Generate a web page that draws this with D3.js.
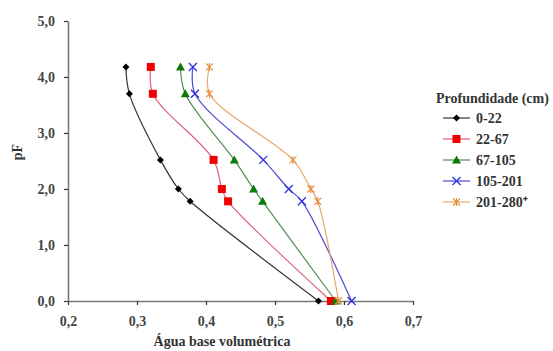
<!DOCTYPE html>
<html><head><meta charset="utf-8">
<script src="https://cdn.jsdelivr.net/npm/d3@7"></script>
<style>body{margin:0;background:#fff}</style>
</head><body>
<svg id="c" width="553" height="351"></svg>
<script>
const seriesNames = ["0-22","22-67","67-105","105-201","201-280⁺"];
const pF = [4.18, 3.7, 2.52, 2.0, 1.78, 0];
const s0 = [0.284, 0.289, 0.334, 0.360, 0.377, 0.563];
const s1 = [0.320, 0.323, 0.411, 0.423, 0.432, 0.581];
const s2 = [0.363, 0.370, 0.441, 0.469, 0.482, 0.588];
const s3 = [0.381, 0.384, 0.483, 0.520, 0.539, 0.611];
const s4 = [0.405, 0.405, 0.526, 0.552, 0.562, 0.592];
const xTicks = [0.2,0.3,0.4,0.5,0.6,0.7];
const yTicks = [0,1,2,3,4,5];
const lineColors = ["#333","#e0607a","#4f8f55","#4a4ad0","#e8a868"];
const markColors = ["#000","#f00000","#0a7a0a","#3030e0","#e89040"];
const markTypes = ["diamond","square","triangle","x","star"];
const values = [s0,s1,s2,s3,s4];
const FONT = "'Liberation Serif',serif";

const svg = d3.select("#c");
const x = d3.scaleLinear().domain([0.2,0.7]).range([68,413]);
const y = d3.scaleLinear().domain([0,5]).range([301,21]);
const fmt = d => d3.format(".1f")(d).replace(".", ",");

const xa = svg.append("g").attr("transform","translate(0,301)")
  .call(d3.axisBottom(x).tickValues(xTicks).tickFormat(fmt).tickSize(4).tickSizeOuter(0));
const ya = svg.append("g").attr("transform","translate(68,0)")
  .call(d3.axisLeft(y).tickValues(yTicks).tickFormat(fmt).tickSize(4).tickSizeOuter(0));
[xa,ya].forEach(a=>{
  a.attr("font-family",FONT);
  a.select(".domain").attr("stroke","#777").attr("stroke-width",1.6);
  a.selectAll(".tick line").attr("stroke","#333").attr("stroke-width",1.2);
  a.selectAll("text").attr("font-size",14).attr("font-weight","bold").attr("fill","#444");
});
xa.selectAll("text").attr("dy","1.3em");
ya.selectAll("text").attr("dx","-6");

svg.append("text").attr("x",222).attr("y",346).attr("text-anchor","middle").attr("font-family",FONT)
  .attr("font-size",14).attr("font-weight","bold").attr("fill","#333").text("Água base volumétrica");
svg.append("text").attr("transform","translate(22,152) rotate(-90)").attr("text-anchor","middle").attr("font-family",FONT)
  .attr("font-size",14).attr("font-weight","bold").attr("fill","#333").text("pF");

function marker(g, type, color, cx, cy){
  if(type==="diamond") g.append("path").attr("d",`M${cx},${cy-3.5}L${cx+3.5},${cy}L${cx},${cy+3.5}L${cx-3.5},${cy}Z`).attr("fill",color);
  else if(type==="square") g.append("rect").attr("x",cx-4).attr("y",cy-4).attr("width",8).attr("height",8).attr("fill",color);
  else if(type==="triangle") g.append("path").attr("d",`M${cx},${cy-4.5}L${cx+4.5},${cy+3.5}L${cx-4.5},${cy+3.5}Z`).attr("fill",color);
  else if(type==="x") g.append("path").attr("d",`M${cx-4},${cy-4}L${cx+4},${cy+4}M${cx-4},${cy+4}L${cx+4},${cy-4}`).attr("stroke",color).attr("stroke-width",1.3);
  else if(type==="star") g.append("path").attr("d",`M${cx-3.5},${cy-3.5}L${cx+3.5},${cy+3.5}M${cx-3.5},${cy+3.5}L${cx+3.5},${cy-3.5}M${cx},${cy-4}L${cx},${cy+4}`).attr("stroke",color).attr("stroke-width",1.2);
}

const line = d3.line().x(d=>x(d[0])).y(d=>y(d[1])).curve(d3.curveCatmullRom.alpha(0.5));
values.forEach((vals,i)=>{
  const pts = vals.map((v,j)=>[v,pF[j]]);
  svg.append("path").datum(pts).attr("d",line).attr("fill","none")
    .attr("stroke",lineColors[i]).attr("stroke-width",1.2);
});
values.forEach((vals,i)=>{
  const g = svg.append("g");
  vals.forEach((v,j)=>marker(g, markTypes[i], markColors[i], x(v), y(pF[j])));
});

// legend
const lg = svg.append("g").attr("font-family",FONT);
lg.append("text").attr("x",436).attr("y",103).attr("font-size",14).attr("font-weight","bold").attr("fill","#333").text("Profundidade (cm)");
seriesNames.forEach((n,i)=>{
  const cy = 118 + i*21;
  lg.append("line").attr("x1",443).attr("x2",470).attr("y1",cy).attr("y2",cy).attr("stroke",lineColors[i]).attr("stroke-width",1.2);
  marker(lg, markTypes[i], markColors[i], 456.5, cy);
  lg.append("text").attr("x",476).attr("y",cy+4.5).attr("font-size",14).attr("font-weight","bold").attr("fill","#333").text(n);
});
</script>
</body></html>
